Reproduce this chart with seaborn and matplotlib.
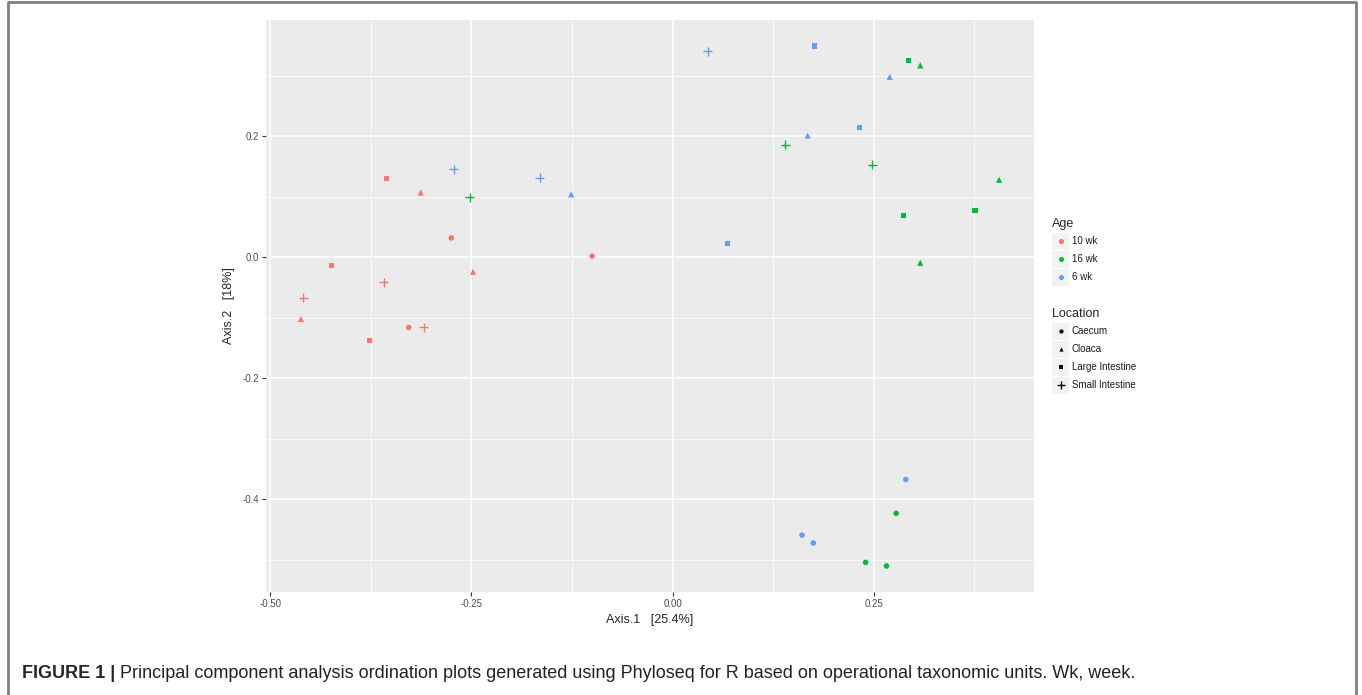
import matplotlib
matplotlib.use("Agg")
import matplotlib.pyplot as plt
import numpy as np
import pandas as pd
import seaborn as sns
from matplotlib.lines import Line2D
from matplotlib.patches import Rectangle

# ordination scores
AGE = (["10 wk"] * 12) + (["6 wk"] * 3) + ["16 wk"] + [
    "6 wk", "6 wk", "16 wk", "16 wk", "6 wk", "6 wk", "6 wk", "16 wk",
    "16 wk", "16 wk", "16 wk", "16 wk", "6 wk", "16 wk",
    "6 wk", "16 wk", "6 wk", "6 wk", "16 wk", "16 wk",
]
LOCATION = [
    "Large Intestine", "Cloaca", "Caecum", "Caecum", "Large Intestine", "Cloaca",
    "Small Intestine", "Small Intestine", "Cloaca", "Caecum", "Small Intestine",
    "Large Intestine",
    "Small Intestine", "Small Intestine", "Cloaca", "Small Intestine",
    "Small Intestine", "Large Intestine", "Large Intestine", "Cloaca", "Cloaca",
    "Large Intestine", "Cloaca", "Small Intestine", "Small Intestine", "Cloaca",
    "Large Intestine", "Large Intestine", "Large Intestine", "Cloaca",
    "Caecum", "Caecum", "Caecum", "Caecum", "Caecum", "Caecum",
]
AXIS1 = [
    -0.356, -0.313, -0.275, -0.100, -0.424, -0.248, -0.359, -0.459, -0.462,
    -0.328, -0.309, -0.377,
    -0.272, -0.165, -0.126, -0.252,
    0.044, 0.177, 0.293, 0.308, 0.270, 0.232, 0.168, 0.140, 0.248, 0.406,
    0.376, 0.287, 0.068, 0.308,
    0.290, 0.278, 0.161, 0.175, 0.240, 0.266,
]
AXIS2 = [
    0.130, 0.107, 0.032, 0.002, -0.013, -0.024, -0.041, -0.067, -0.102,
    -0.116, -0.116, -0.138,
    0.145, 0.131, 0.104, 0.099,
    0.340, 0.349, 0.325, 0.317, 0.298, 0.214, 0.201, 0.186, 0.153, 0.128,
    0.077, 0.069, 0.023, -0.009,
    -0.367, -0.423, -0.459, -0.472, -0.504, -0.510,
]

AGE_LEVELS = ["10 wk", "16 wk", "6 wk"]
LOC_LEVELS = ["Caecum", "Cloaca", "Large Intestine", "Small Intestine"]
PALETTE = dict(zip(AGE_LEVELS, ["#F8766D", "#00BA38", "#619CFF"]))
MARKERS = dict(zip(LOC_LEVELS, ["o", "^", "s", "+"]))
SIZES = dict(zip(LOC_LEVELS, [16, 20, 14, 42]))

CAPTION_BOLD = "FIGURE 1 |"
CAPTION = ("Principal component analysis ordination plots generated using Phyloseq "
           "for R based on operational taxonomic units. Wk, week.")

df = pd.DataFrame({"Axis.1": AXIS1, "Axis.2": AXIS2, "Age": AGE, "Location": LOCATION})

sns.set_theme(style="darkgrid", rc={
    "axes.facecolor": "#EBEBEB",
    "grid.color": "white",
    "axes.edgecolor": "none",
})
plt.rcParams["font.family"] = ["Liberation Sans", "DejaVu Sans"]

W, H = 1362, 695
fig = plt.figure(figsize=(W / 100, H / 100), dpi=100)
ax = fig.add_axes([266 / W, 1 - 592 / H, (1034 - 266) / W, (592 - 20) / H])

for loc in LOC_LEVELS:
    sub = df[df["Location"] == loc]
    kw = dict(linewidth=1.0) if MARKERS[loc] == "+" else dict(linewidth=0)
    sns.scatterplot(data=sub, x="Axis.1", y="Axis.2", hue="Age", hue_order=AGE_LEVELS,
                    palette=PALETTE, marker=MARKERS[loc], s=SIZES[loc], ax=ax,
                    legend=False, zorder=3, **kw)

# ggplot default 5% expansion of the data range
xr = max(AXIS1) - min(AXIS1)
yr = max(AXIS2) - min(AXIS2)
ax.set_xlim(min(AXIS1) - 0.05 * xr, max(AXIS1) + 0.05 * xr)
ax.set_ylim(min(AXIS2) - 0.05 * yr, max(AXIS2) + 0.05 * yr)
ax.set_xticks([-0.5, -0.25, 0.0, 0.25])
ax.set_xticklabels(["-0.50", "-0.25", "0.00", "0.25"])
ax.set_xticks([-0.375, -0.125, 0.125, 0.375], minor=True)
ax.set_yticks([-0.4, -0.2, 0.0, 0.2])
ax.set_yticklabels(["-0.4", "-0.2", "0.0", "0.2"])
ax.set_yticks([-0.5, -0.3, -0.1, 0.1, 0.3], minor=True)
ax.grid(which="major", color="white", linewidth=1.1)
ax.grid(which="minor", color="white", linewidth=0.55)
for s in ax.spines.values():
    s.set_visible(False)
ax.tick_params(which="major", bottom=True, left=True, length=3, width=0.8,
               color="#333333", labelsize=7, labelcolor="#4D4D4D", pad=2)
ax.tick_params(which="minor", length=0)
ax.set_xlabel("Axis.1   [25.4%]", fontsize=9, labelpad=4)
ax.set_ylabel("Axis.2   [18%]", fontsize=9, labelpad=5)

# ggplot-style legends drawn from the level lists
def draw_legend(title, levels, title_y, handle):
    fig.text(1052 / W, 1 - title_y / H, title, fontsize=9, va="center", ha="left")
    for i, lev in enumerate(levels):
        cy = title_y + 17 + 18 * i
        fig.add_artist(Rectangle((1052 / W, 1 - (cy + 8.5) / H), 17 / W, 17 / H,
                                 transform=fig.transFigure, facecolor="#F2F2F2",
                                 edgecolor="none"))
        fig.add_artist(handle(lev, 1060.5 / W, 1 - cy / H))
        fig.text(1072 / W, 1 - cy / H, lev, fontsize=7, va="center", ha="left",
                 color="#1A1A1A")


draw_legend("Age", AGE_LEVELS, 224,
            lambda lev, x, y: Line2D([x], [y], marker="o", markersize=2.6, color=PALETTE[lev],
                                     linestyle="none", transform=fig.transFigure))
draw_legend("Location", LOC_LEVELS, 314,
            lambda lev, x, y: Line2D([x], [y], marker=MARKERS[lev],
                                     markersize=5.5 if MARKERS[lev] == "+" else 3.0,
                                     color="black", markeredgewidth=1 if MARKERS[lev] == "+" else 0,
                                     linestyle="none", transform=fig.transFigure))

# figure frame (open at the bottom)
fig.add_artist(Line2D([7.5 / W, 7.5 / W, 1356 / W, 1356 / W],
                      [0, 1 - 2 / H, 1 - 2 / H, 0], transform=fig.transFigure,
                      color="#808080", linewidth=2))

# caption
t1 = fig.text(22 / W, 1 - 673 / H, CAPTION_BOLD, fontsize=13, fontweight="bold",
              va="center", ha="left")
fig.canvas.draw()
bb = t1.get_window_extent()
fig.text((bb.x1 + 5) / W, 1 - 673 / H, CAPTION, fontsize=13, va="center", ha="left",
         color="#222222")

fig.savefig("out.png", dpi=100)
